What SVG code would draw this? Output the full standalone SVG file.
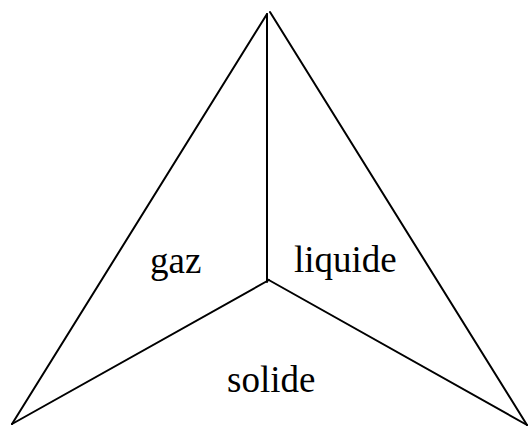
<svg xmlns="http://www.w3.org/2000/svg" width="530" height="427" viewBox="0 0 530 427">
<style>
.l{stroke:#000;stroke-width:2;fill:none;stroke-linecap:round}
.t{font-family:"Liberation Serif",serif;font-size:37px;fill:#000}
</style>
<rect width="530" height="427" fill="#fff"/>
<g id="connectors">
<line class="l" x1="267" y1="14" x2="12" y2="424"/>
<line class="l" x1="270" y1="12" x2="527" y2="425"/>
<line class="l" x1="267" y1="14" x2="267" y2="282"/>
<line class="l" x1="269" y1="280" x2="12" y2="424"/>
<line class="l" x1="267" y1="279" x2="527" y2="425"/>
</g>
<g id="gaz"><text class="t" x="150" y="273">gaz</text></g>
<g id="liquide"><text class="t" x="294" y="272">liquide</text></g>
<g id="solide"><text class="t" x="227" y="392">solide</text></g>
</svg>
